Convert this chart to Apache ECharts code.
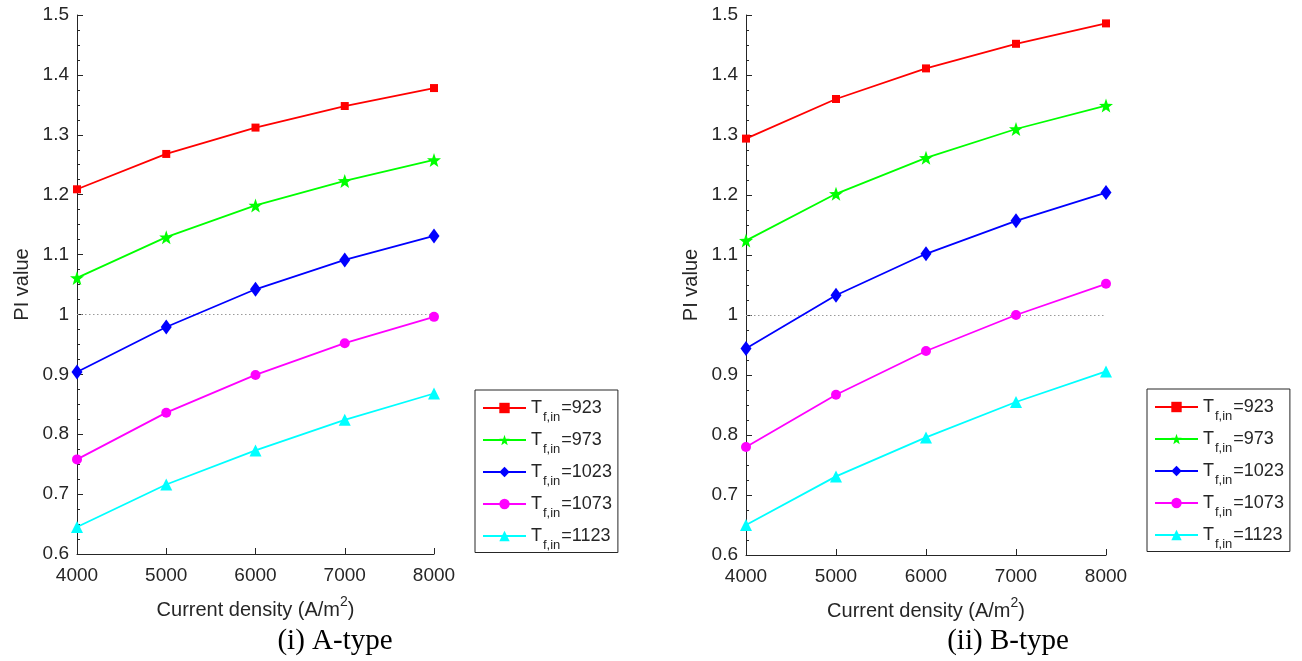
<!DOCTYPE html>
<html>
<head>
<meta charset="utf-8">
<title>PI value vs current density</title>
<script src="https://cdn.jsdelivr.net/npm/echarts@6/dist/echarts.min.js"></script>
<style>
  html, body { margin: 0; padding: 0; background: #fff; }
  #chart { width: 1302px; height: 661px; }
</style>
</head>
<body>
<div id="chart"></div>
<script>
// Current density (A/m^2) on the x axis
const currentDensity = [4000, 5000, 6000, 7000, 8000];
// Inlet fuel temperatures, one curve each
const inletTemps = [923, 973, 1023, 1073, 1123];

// PI values, A-type
const aType923  = [1.209, 1.268, 1.312, 1.348, 1.378];
const aType973  = [1.061, 1.129, 1.182, 1.223, 1.258];
const aType1023 = [0.904, 0.979, 1.042, 1.091, 1.131];
const aType1073 = [0.758, 0.836, 0.899, 0.952, 0.996];
const aType1123 = [0.645, 0.716, 0.773, 0.824, 0.868];

// PI values, B-type
const bType923  = [1.294, 1.360, 1.411, 1.452, 1.486];
const bType973  = [1.124, 1.202, 1.262, 1.310, 1.349];
const bType1023 = [0.944, 1.033, 1.102, 1.157, 1.204];
const bType1073 = [0.780, 0.867, 0.940, 1.000, 1.052];
const bType1123 = [0.650, 0.731, 0.796, 0.855, 0.906];

const yTicks = { min: 0.6, max: 1.5, step: 0.1 };
const xTicks = { min: 4000, max: 8000, step: 1000 };
const captions = ['(i) A-type', '(ii) B-type'];

const aTypeSets = [aType923, aType973, aType1023, aType1073, aType1123];
const bTypeSets = [bType923, bType973, bType1023, bType1073, bType1123];

const colors = ['#ff0000', '#00ff00', '#0000ff', '#ff00ff', '#00ffff'];
const STAR = 'path://M0,-10L2.35,-3.24L9.51,-3.09L3.8,1.24L5.88,8.09L0,4.2L-5.88,8.09L-3.8,1.24L-9.51,-3.09L-2.35,-3.24Z';
const symbols = ['rect', STAR, 'diamond', 'circle', 'triangle'];
const symbolSizes = [8, 14, [11, 15], 10, 12];

const AXIS_COLOR = '#262626';
const SANS = '"Liberation Sans", Arial, sans-serif';
const SERIF = '29px "Liberation Serif", "Times New Roman", serif';

const seriesName = t => 'Tf,in=' + t;

function buildSeries(sets, gridIndex) {
  return sets.map((vals, i) => {
    const s = {
      name: seriesName(inletTemps[i]),
      type: 'line',
      xAxisIndex: gridIndex,
      yAxisIndex: gridIndex,
      data: currentDensity.map((x, j) => [x, vals[j]]),
      symbol: symbols[i],
      symbolSize: symbolSizes[i],
      showAllSymbol: true,
      lineStyle: { color: colors[i], width: 1.8 },
      itemStyle: { color: colors[i] },
      z: 3,
      animation: false
    };
    if (i === 0) {
      // dotted reference line at PI = 1
      s.markLine = {
        silent: true,
        symbol: 'none',
        label: { show: false },
        lineStyle: { type: [1.5, 2.5], color: '#9a9a9a', width: 1 },
        data: [[{ coord: [xTicks.min, 1] }, { coord: [xTicks.max, 1] }]],
        z: 1
      };
    }
    return s;
  });
}

function xAxis(gridIndex) {
  return {
    type: 'value',
    gridIndex,
    min: xTicks.min, max: xTicks.max, interval: xTicks.step,
    axisLine: { show: true, lineStyle: { color: AXIS_COLOR, width: 1 } },
    axisTick: { show: true, inside: true, length: 6, lineStyle: { color: AXIS_COLOR } },
    axisLabel: { color: AXIS_COLOR, fontFamily: SANS, fontSize: 19, margin: 12, formatter: v => String(v) },
    splitLine: { show: false },
    name: '{a|Current density (A/m}{s|2}{a|)}',
    nameLocation: 'middle',
    nameGap: 41,
    nameTextStyle: {
      rich: {
        a: { fontFamily: SANS, fontSize: 20, color: AXIS_COLOR, lineHeight: 20, verticalAlign: 'bottom' },
        s: { fontFamily: SANS, fontSize: 14, color: AXIS_COLOR, lineHeight: 25, verticalAlign: 'top' }
      }
    }
  };
}

function yAxis(gridIndex) {
  return {
    type: 'value',
    gridIndex,
    min: yTicks.min, max: yTicks.max, interval: yTicks.step,
    axisLine: { show: true, lineStyle: { color: AXIS_COLOR, width: 1 } },
    axisTick: { show: true, inside: true, length: 6, lineStyle: { color: AXIS_COLOR } },
    minorTick: { show: true, splitNumber: 4, length: 3, lineStyle: { color: AXIS_COLOR } },
    axisLabel: {
      color: AXIS_COLOR, fontFamily: SANS, fontSize: 19, margin: 8,
      formatter: v => String(Number(v.toFixed(1)))
    },
    splitLine: { show: false },
    name: 'PI value',
    nameLocation: 'middle',
    nameGap: 45,
    nameTextStyle: { fontFamily: SANS, fontSize: 20, color: AXIS_COLOR }
  };
}

function legend(left, top) {
  return {
    left, top,
    orient: 'vertical',
    data: inletTemps.map(seriesName),
    itemWidth: 43,
    itemHeight: 13,
    itemGap: 7.5,
    padding: [9, 6, 1, 7],
    borderColor: AXIS_COLOR,
    borderWidth: 1,
    backgroundColor: '#fff',
    selectedMode: false,
    formatter: name => '{t|T}{s|f,in}{v|' + name.slice(name.indexOf('=')) + '}',
    textStyle: {
      rich: {
        t: { fontFamily: SANS, fontSize: 18, color: AXIS_COLOR, lineHeight: 18, verticalAlign: 'middle' },
        s: { fontFamily: SANS, fontSize: 13, color: AXIS_COLOR, lineHeight: 31, verticalAlign: 'bottom', padding: [0, 1, 0, 1] },
        v: { fontFamily: SANS, fontSize: 18, color: AXIS_COLOR, lineHeight: 18, verticalAlign: 'middle' }
      }
    }
  };
}

const chart = echarts.init(document.getElementById('chart'), null, { renderer: 'canvas' });
chart.setOption({
  animation: false,
  backgroundColor: '#ffffff',
  grid: [
    { left: 77, top: 15, width: 357, height: 539 },
    { left: 746, top: 15, width: 360, height: 540 }
  ],
  xAxis: [xAxis(0), xAxis(1)],
  yAxis: [yAxis(0), yAxis(1)],
  legend: [legend(475, 390), legend(1147, 389)],
  series: [...buildSeries(aTypeSets, 0), ...buildSeries(bTypeSets, 1)],
  graphic: [
    { type: 'text', x: 335, y: 641, style: { text: captions[0], font: SERIF, fill: '#000', align: 'center', verticalAlign: 'middle' } },
    { type: 'text', x: 1008, y: 641, style: { text: captions[1], font: SERIF, fill: '#000', align: 'center', verticalAlign: 'middle' } }
  ]
});
</script>
</body>
</html>
